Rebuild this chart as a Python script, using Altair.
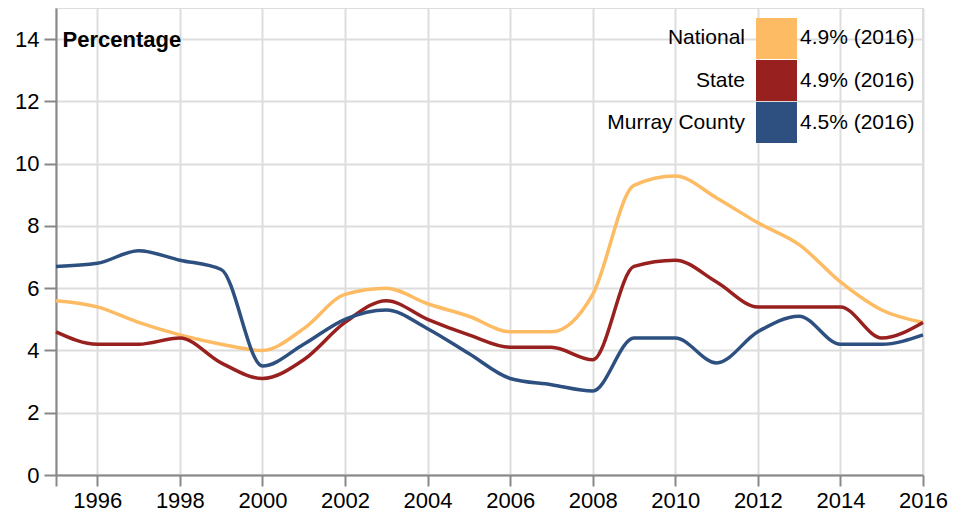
import altair as alt
import pandas as pd

years = list(range(1995, 2017))
national = [5.6, 5.4, 4.9, 4.5, 4.2, 4.0, 4.7, 5.8, 6.0, 5.5, 5.1, 4.6, 4.6, 5.8, 9.3, 9.6, 8.9, 8.1, 7.4, 6.2, 5.3, 4.9]
state = [4.6, 4.2, 4.2, 4.4, 3.6, 3.1, 3.7, 4.9, 5.6, 5.0, 4.5, 4.1, 4.1, 3.7, 6.7, 6.9, 6.2, 5.4, 5.4, 5.4, 4.4, 4.9]
murray = [6.7, 6.8, 7.2, 6.9, 6.6, 3.5, 4.2, 5.0, 5.3, 4.7, 3.9, 3.1, 2.9, 2.7, 4.4, 4.4, 3.6, 4.6, 5.1, 4.2, 4.2, 4.5]

series_names = ["National", "State", "Murray County"]
series_colors = ["#FDBB63", "#98211F", "#2D5081"]
legend_values = ["4.9% (2016)", "4.9% (2016)", "4.5% (2016)"]

x_ticks = [1995] + list(range(1996, 2017, 2))
y_ticks = list(range(0, 15, 2))

rows = []
for name, vals in zip(series_names, [national, state, murray]):
    for y, v in zip(years, vals):
        rows.append({"year": y, "value": v, "series": name})
df = pd.DataFrame(rows)

leg = pd.DataFrame({"series": series_names, "label": legend_values})

FONT = "Liberation Sans"

x = alt.X("year:Q", scale=alt.Scale(domain=[1995, 2016], nice=False, zero=False),
          axis=alt.Axis(values=x_ticks, format="d", title=None,
                        labelExpr="datum.value == 1995 ? '' : datum.label",
                        labelFlush=False, labelOverlap=False,
                        labelFontSize=22, labelFont=FONT, labelColor="#000",
                        tickSize=11, labelPadding=4, domainColor="#888", domainWidth=2,
                        tickColor="#888", tickWidth=2, gridColor="#ddd", gridWidth=2))
y = alt.Y("value:Q", scale=alt.Scale(domain=[0, 15], nice=False),
          axis=alt.Axis(values=y_ticks, title="Percentage",
                        titleAngle=0, titleAlign="left", titleBaseline="middle",
                        titleX=6, titleY=31, titleFontSize=22, titleFont=FONT,
                        titleFontWeight="bold", titleColor="#000",
                        labelFlush=False, labelOverlap=False,
                        labelFontSize=22, labelFont=FONT, labelColor="#000",
                        tickSize=12, labelPadding=5, domainColor="#888", domainWidth=2,
                        tickColor="#888", tickWidth=2, gridColor="#ddd", gridWidth=2))

lines = alt.Chart(df).mark_line(interpolate="monotone", strokeWidth=3.5).encode(
    x=x, y=y,
    color=alt.Color("series:N", scale=alt.Scale(domain=series_names, range=series_colors), legend=None),
    order=alt.Order("year:Q"),
)

ly = alt.Y("series:N", sort=series_names,
           scale=alt.Scale(range=[10, 135], paddingInner=0.025, paddingOuter=0), axis=None)

swatch = alt.Chart(leg).mark_rect().encode(
    y=ly,
    x=alt.value(700), x2=alt.value(741),
    color=alt.Color("series:N", scale=alt.Scale(domain=series_names, range=series_colors), legend=None),
)
names = alt.Chart(leg).mark_text(align="right", baseline="middle", fontSize=21, font=FONT, color="#000").encode(
    y=ly, x=alt.value(689), text="series:N")
vals = alt.Chart(leg).mark_text(align="left", baseline="middle", fontSize=21, font=FONT, color="#000").encode(
    y=ly, x=alt.value(744), text="label:N")

legend = alt.layer(swatch, names, vals)

chart = alt.layer(lines, legend).resolve_scale(y="independent").properties(
    width=867, height=467,
    autosize=alt.AutoSizeParams(type="none"),
    padding={"left": 48, "top": 0, "right": 36, "bottom": 36},
).configure_view(stroke="#ddd", strokeWidth=2)

chart.save("out.html", embed_options={"renderer": "svg", "actions": False})
